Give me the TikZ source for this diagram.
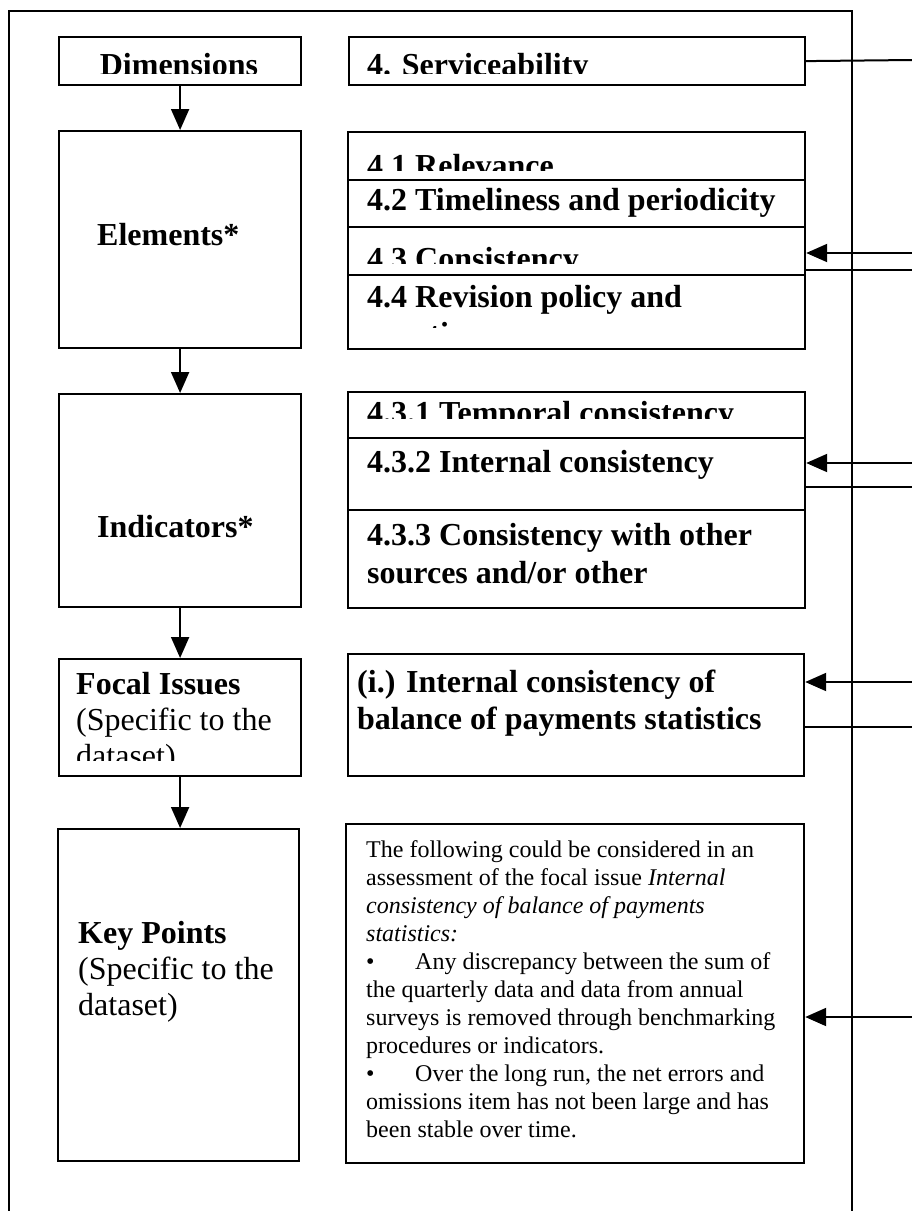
\documentclass[tikz,border=0pt]{standalone}
\usepackage{fontspec}
\setmainfont{Liberation Serif}
\usetikzlibrary{arrows.meta}
\begin{document}
\begin{tikzpicture}[x=1pt,y=-1pt,
  box/.style={draw, line width=2.2pt, inner sep=0pt, anchor=north west},
  arr/.style={-{Triangle[length=21pt,width=18pt]}, line width=2pt},
  ln/.style={line width=2pt},
  txt/.style={font=\fontsize{32}{37}\selectfont, anchor=base west, inner sep=0pt},
  btxt/.style={font=\bfseries\fontsize{32}{37}\selectfont, anchor=base west, inner sep=0pt},
  stxt/.style={font=\fontsize{24}{28}\selectfont, anchor=base west, inner sep=0pt}]
\useasboundingbox (0,0) rectangle (912,1211);
% outer frame
\draw[ln] (9,1211) -- (9,11) -- (852,11) -- (852,1211);

% left column boxes
\node[box, minimum width=242pt, minimum height=48pt]  (dim)  at (58,36)  {};
\node[box, minimum width=242pt, minimum height=217pt] (elem) at (58,130) {};
\node[box, minimum width=242pt, minimum height=213pt] (ind)  at (58,393) {};
\node[box, minimum width=242pt, minimum height=117pt] (foc)  at (58,658) {};
\node[box, minimum width=241pt, minimum height=332pt] (kp)   at (57,828) {};

% right column boxes
\node[box, minimum width=456pt, minimum height=48pt]  (serv)  at (348,36)  {};
\node[box, minimum width=457pt, minimum height=217pt] (elist) at (347,131) {};
\node[box, minimum width=457pt, minimum height=216pt] (ilist) at (347,391) {};
\node[box, minimum width=456pt, minimum height=122pt] (flist) at (347,653) {};
\node[box, minimum width=458pt, minimum height=339pt] (kpt)   at (345,823) {};

% dividers
\foreach \yy in {180,227,275} \draw[ln] (elist.west |- 0,\yy) -- (elist.east |- 0,\yy);
\foreach \yy in {438,510} \draw[ln] (ilist.west |- 0,\yy) -- (ilist.east |- 0,\yy);

% left column texts
\begin{scope}\clip (58,36) rectangle (300,73);
\node[btxt, anchor=base] (tdim) at (179,75.5) {Dimensions};
\end{scope}
\node[btxt] (telem) at (97,245) {Elements*};
\node[btxt] (tind) at (97,537) {Indicators*};
\begin{scope}\clip (58,658) rectangle (300,760);
\node[btxt] (tfoc1) at (76,694) {Focal Issues};
\node[txt]  (tfoc2) at (76,730) {(Specific to the};
\node[txt]  (tfoc3) at (76,766) {dataset)};
\end{scope}
\node[btxt] (tkp1) at (78,943) {Key Points};
\node[txt]  (tkp2) at (78,979) {(Specific to the};
\node[txt]  (tkp3) at (78,1015) {dataset)};

% right column texts
\begin{scope}\clip (348,36) rectangle (804,73);
\node[btxt] (tserv) at (367,75.5) {4. Serviceability};
\end{scope}
\begin{scope}\clip (347,131) rectangle (804,170);
\node[btxt] (t41) at (367,176) {4.1 Relevance};
\end{scope}
\node[btxt] (t42) at (367,210) {4.2 Timeliness and periodicity};
\begin{scope}\clip (347,227) rectangle (804,263);
\node[btxt] (t43) at (367,269) {4.3 Consistency};
\end{scope}
\begin{scope}\clip (347,275) rectangle (804,327);
\node[btxt] (t44a) at (367,307) {4.4 Revision policy and};
\node[btxt] (t44b) at (367,344) {practice};
\end{scope}
\begin{scope}\clip (347,391) rectangle (804,418);
\node[btxt] (t431) at (367,423) {4.3.1 Temporal consistency};
\end{scope}
\node[btxt] (t432) at (367,472) {4.3.2 Internal consistency};
\node[btxt] (t433a) at (367,545) {4.3.3 Consistency with other};
\node[btxt] (t433b) at (367,583) {sources and/or other};
\node[btxt] (tf1) at (357,692) {(i.) Internal consistency of};
\node[btxt] (tf2) at (357,729) {balance of payments statistics};

% key points paragraph
\foreach \yy/\tx [count=\i] in {
  857/{The following could be considered in an},
  885/{assessment of the focal issue \textit{Internal}},
  913/{\textit{consistency of balance of payments}},
  941/{\textit{statistics:}},
  969/{\makebox[49pt][l]{\textbullet}Any discrepancy between the sum of},
  997/{the quarterly data and data from annual},
  1025/{surveys is removed through benchmarking},
  1053/{procedures or indicators.},
  1081/{\makebox[49pt][l]{\textbullet}Over the long run, the net errors and},
  1109/{omissions item has not been large and has},
  1137/{been stable over time.}}
  \node[stxt] (kl\i) at (366,\yy) {\tx};

% vertical arrows
\draw[arr] (dim.south) -- (dim.south |- elem.north);
\draw[arr] (elem.south) -- (elem.south |- ind.north);
\draw[arr] (ind.south) -- (ind.south |- foc.north);
\draw[arr] (foc.south) -- (foc.south |- kp.north);

% right-edge connectors
\coordinate (e0) at (912,60);
\coordinate (e1) at (912,253);
\coordinate (e2) at (912,270);
\coordinate (e3) at (912,463);
\coordinate (e4) at (912,487);
\coordinate (e5) at (912,682);
\coordinate (e6) at (912,727);
\coordinate (e7) at (912,1017);
\draw[ln] (serv.east) -- (e0);
\draw[arr] (e1) -- (e1 -| elist.east);
\draw[ln] (e2 -| elist.east) -- (e2);
\draw[arr] (e3) -- (e3 -| ilist.east);
\draw[ln] (e4 -| ilist.east) -- (e4);
\draw[arr] (e5) -- (e5 -| flist.east);
\draw[ln] (e6 -| flist.east) -- (e6);
\draw[arr] (e7) -- (e7 -| kpt.east);
\end{tikzpicture}
\end{document}
